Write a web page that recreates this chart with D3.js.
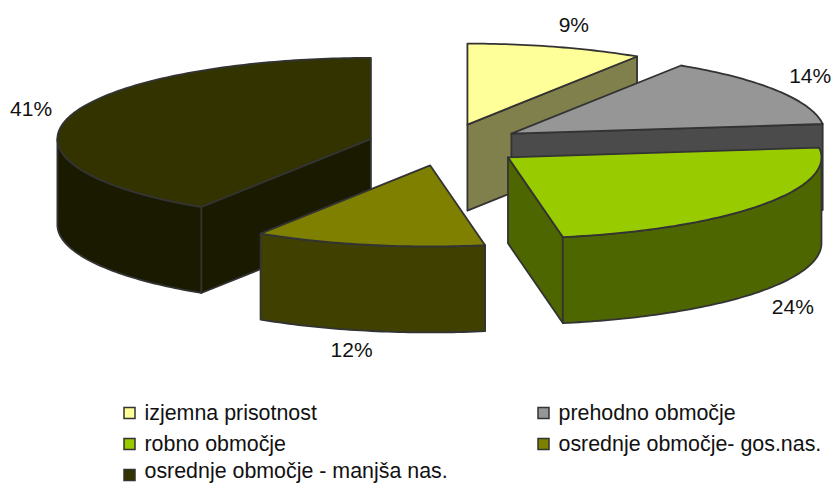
<!DOCTYPE html>
<html><head><meta charset="utf-8">
<script src="https://cdn.jsdelivr.net/npm/d3@7/dist/d3.min.js"></script>
<style>html,body{margin:0;padding:0;background:#fff}svg{display:block}text{font-family:"Liberation Sans",Arial,sans-serif;fill:#111}</style>
</head><body><svg id="c" width="832" height="483"></svg>
<script>
const categories = ["izjemna prisotnost","prehodno območje","robno območje","osrednje območje- gos.nas.","osrednje območje - manjša nas."];
const shares = [9.1, 14, 24.1, 11.9, 40.9];
const topColors = ["#FFFF99","#969696","#99CC00","#808000","#333300"];

// layout
const W = 832, H = 483;
const centre = {x: 445.5, y: 144.8};
const rx = 313.5, ry = 81, depth = 86;
const explodeX = 0.248, explodeY = 0.26;
const labelNudge = [[18,-22],[33,-15],[33,101],[-17,105],[-39,-8]];
const legendX = [124, 538], legendY = [413, 444, 471], swatchY = [413, 444, 475];

const svg = d3.select("#c");
const sx = d3.scaleLinear().domain([-1,1]).range([-rx,rx]);
const sy = d3.scaleLinear().domain([-1,1]).range([-ry,ry]);
const pie = d3.pie().sort(null).value(d=>d);
const arcs = pie(shares).map((a,i)=>{
  const mid=(a.startAngle+a.endAngle)/2;
  return {i,a0:a.startAngle,a1:a.endAngle,mid,
    ax:centre.x+sx(Math.sin(mid))*explodeX,
    ay:centre.y-sy(Math.cos(mid))*explodeY};
});
const pt=(s,t,dz=0)=>[s.ax+sx(Math.sin(t)), s.ay-sy(Math.cos(t))+dz];
const samples=(a,b)=>{const n=Math.max(2,Math.ceil((b-a)/(Math.PI/180)));return d3.range(n+1).map(k=>a+(b-a)*k/n);};
const line=d3.line().curve(d3.curveLinear);
const closed=p=>line(p)+"Z";
const dark=c=>{const r=d3.rgb(c);return d3.rgb(r.r*.5,r.g*.5,r.b*.5).formatHex();};
const stroke="#333333", sw=1.8;

const order=arcs.slice().sort((p,q)=>d3.ascending(p.ay,q.ay));
const g=svg.append("g").attr("stroke",stroke).attr("stroke-width",sw).attr("stroke-linejoin","round");
order.forEach(s=>{
  const side=dark(topColors[s.i]);
  const apex=[s.ax,s.ay], apexB=[s.ax,s.ay+depth];
  const wall=t=>g.append("path").attr("fill",side).attr("d",closed([apex,pt(s,t),pt(s,t,depth),apexB]));
  if(Math.sin(s.a0)<-1e-6) wall(s.a0);
  if(Math.sin(s.a1)>1e-6) wall(s.a1);
  const lo=Math.max(s.a0,Math.PI/2), hi=Math.min(s.a1,Math.PI*3/2);
  if(hi>lo){
    const ts=samples(lo,hi);
    g.append("path").attr("fill",side).attr("d",closed(ts.map(t=>pt(s,t)).concat(ts.slice().reverse().map(t=>pt(s,t,depth)))));
  }
  g.append("path").attr("fill",topColors[s.i]).attr("d",closed([apex].concat(samples(s.a0,s.a1).map(t=>pt(s,t)))));
});

const fmt=d3.format(".0f");
arcs.forEach(s=>{
  const e=pt(s,s.mid);
  svg.append("text").attr("x",e[0]+labelNudge[s.i][0]).attr("y",e[1]+labelNudge[s.i][1])
    .attr("text-anchor","middle").attr("dominant-baseline","central").attr("font-size",21)
    .text(fmt(shares[s.i])+"%");
});

const leg=svg.append("g");
categories.forEach((c,i)=>{
  const x=legendX[i%2], row=Math.floor(i/2), y=legendY[row];
  leg.append("rect").attr("x",x).attr("y",swatchY[row]-5.5).attr("width",11).attr("height",11)
    .attr("fill",topColors[i]).attr("stroke",stroke).attr("stroke-width",1.5);
  leg.append("text").attr("x",x+20.5).attr("y",y).attr("dominant-baseline","central").attr("font-size",21.4).text(c);
});
</script></body></html>
